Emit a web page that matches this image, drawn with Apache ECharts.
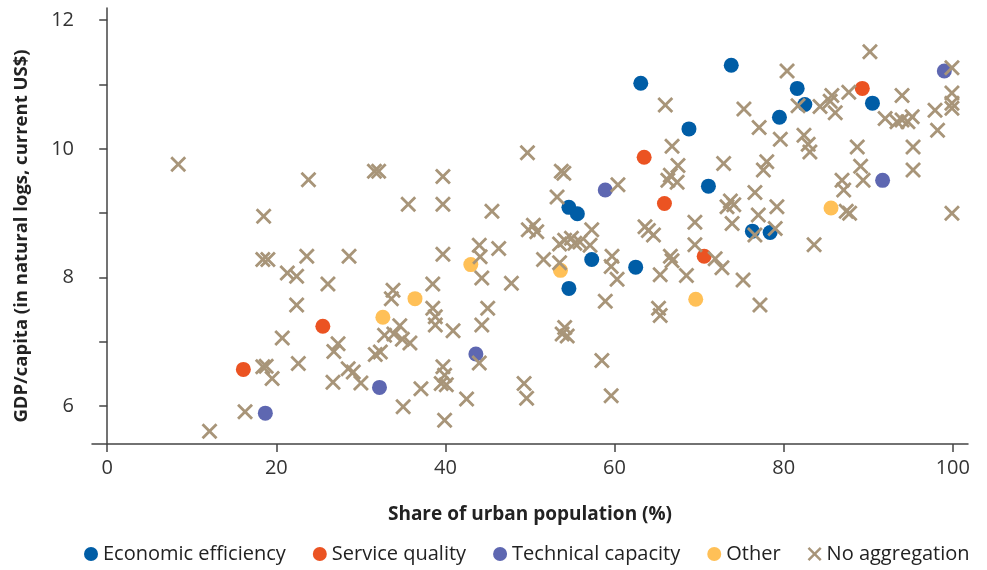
<!DOCTYPE html>
<html>
<head>
<meta charset="utf-8">
<script src="https://cdn.jsdelivr.net/npm/echarts@6/dist/echarts.min.js"></script>
<style>
html,body{margin:0;padding:0;background:#fff;}
#chart{width:987px;height:570px;}
</style>
</head>
<body>
<div id="chart"></div>
<script>
// Share of urban population (%) vs GDP/capita (natural log)
const economicEfficiency = [
  [63.1,11.02],[73.8,11.30],[68.8,10.31],[81.6,10.94],[82.5,10.69],[79.5,10.49],[90.5,10.71],
  [71.1,9.42],[54.6,9.09],[55.6,8.99],[57.3,8.28],[54.6,7.83],[62.5,8.16],[76.3,8.72],[78.4,8.70]
];
const serviceQuality = [
  [89.3,10.94],[63.5,9.87],[65.9,9.15],[70.6,8.33],[25.5,7.24],[16.1,6.57]
];
const technicalCapacity = [
  [99.0,11.21],[91.7,9.51],[58.9,9.36],[43.6,6.81],[32.2,6.29],[18.7,5.89]
];
const otherType = [
  [85.6,9.08],[43.0,8.20],[53.6,8.11],[36.4,7.67],[32.6,7.38],[69.6,7.66]
];
const noAggregation = [
  [8.4,9.76],[12.1,5.61],[16.3,5.91],[18.5,8.95],[18.4,8.28],[19.0,8.28],[18.4,6.61],[18.8,6.62],
  [19.5,6.43],[20.7,7.06],[21.3,8.07],[22.4,8.02],[22.4,7.57],[22.6,6.66],[23.6,8.33],[23.8,9.52],
  [26.1,7.90],[27.3,6.97],[26.8,6.85],[26.7,6.37],[28.5,6.58],[29.1,6.53],[28.6,8.33],[30.0,6.36],
  [31.6,9.65],[32.1,9.65],[31.7,6.80],[32.3,6.84],[32.8,7.10],[33.8,7.80],[33.6,7.67],[33.9,7.12],
  [34.6,7.25],[34.9,7.04],[35.8,6.98],[35.0,5.99],[35.6,9.14],[37.1,6.27],[38.5,7.90],[38.5,7.52],
  [38.8,7.39],[38.8,7.26],[39.7,8.36],[39.7,9.57],[39.7,9.14],[39.7,6.61],[39.9,6.48],[39.5,6.35],
  [40.1,6.33],[39.9,5.78],[40.9,7.17],[42.5,6.11],[44.0,8.50],[44.1,8.32],[44.0,6.67],[44.3,7.99],
  [44.3,7.26],[45.0,7.52],[45.5,9.03],[46.3,8.45],[47.8,7.91],[49.3,6.35],[49.6,6.12],[49.7,9.94],
  [49.8,8.74],[50.4,8.81],[50.8,8.71],[51.6,8.28],[53.2,9.25],[53.7,9.65],[54.0,9.62],[53.5,8.52],
  [53.5,8.23],[54.1,7.22],[53.8,7.12],[54.4,7.09],[54.1,8.58],[54.9,8.61],[55.3,8.53],[55.9,8.55],
  [57.1,8.50],[57.3,8.74],[58.5,6.71],[58.9,7.63],[59.6,6.16],[59.7,8.33],[59.6,8.17],[60.3,7.97],
  [60.4,9.44],[63.6,8.79],[64.0,8.73],[64.6,8.66],[65.4,8.04],[65.2,7.52],[65.4,7.41],[66.0,10.68],
  [66.8,10.04],[67.5,9.74],[66.6,9.59],[66.3,9.51],[67.4,9.48],[66.6,8.33],[66.8,8.26],[68.5,8.03],
  [69.5,8.86],[69.5,8.51],[71.9,8.29],[72.7,8.15],[72.9,9.77],[73.7,9.19],[74.1,9.13],[73.3,9.10],
  [73.9,8.84],[75.3,10.62],[75.2,7.96],[76.6,9.32],[76.6,8.66],[77.0,8.97],[77.1,10.33],[77.2,7.57],
  [78.0,9.80],[77.6,9.67],[79.0,8.76],[79.2,9.10],[79.6,10.15],[80.4,11.21],[81.7,10.67],[82.4,10.21],
  [82.9,10.07],[83.1,9.95],[83.6,8.51],[84.3,10.66],[85.5,10.74],[85.7,10.83],[86.1,10.56],[86.9,9.51],
  [87.1,9.36],[87.4,9.03],[87.8,9.00],[87.7,10.88],[88.7,10.03],[89.1,9.73],[89.4,9.51],[90.2,11.51],
  [92.0,10.47],[93.4,10.42],[94.0,10.45],[94.0,10.83],[94.7,10.42],[95.2,10.50],[95.3,10.03],[95.3,9.67],
  [97.9,10.60],[98.2,10.29],[99.9,11.26],[99.9,10.87],[99.9,10.71],[99.9,10.63],[99.9,9.00]
];
const xTicks = [0,20,40,60,80,100];
const yTicks = [6,7,8,9,10,11,12];
const yTickLabels = [6,8,10,12];
const seriesNames = ['Economic efficiency','Service quality','Technical capacity','Other','No aggregation'];
const xTitle = 'Share of urban population (%)';
const yTitle = 'GDP/capita (in natural logs, current US$)';

const crossPath = 'path://M0,12.5L12.5,0L50,37.5L87.5,0L100,12.5L62.5,50L100,87.5L87.5,100L50,62.5L12.5,100L0,87.5L37.5,50Z';
const FONT = '"Open Sans", "Noto Sans", sans-serif';
const colors = ['#005DA6','#EB5322','#5E67B1','#FFC057','#A89579'];

const chart = echarts.init(document.getElementById('chart'), null, {renderer:'canvas'});
const dotSeries = (name, data, color) => ({
  name, type:'scatter', data, symbol:'circle', symbolSize:15,
  itemStyle:{color, opacity:1}, emphasis:{disabled:true}
});
chart.setOption({
  animation:false,
  textStyle:{fontFamily:FONT},
  grid:{left:92, right:19, top:8, bottom:126},
  graphic:[{
    type:'text', z:10,
    rotation:Math.PI/2, x:22, y:236,
    style:{text:yTitle, fontFamily:FONT, fontSize:18.5, fontWeight:'bold', fill:'#222',
      align:'center', verticalAlign:'middle'}
  }],
  legend:{
    top:539, left:79, itemWidth:14, itemHeight:14, itemGap:27,
    textStyle:{fontFamily:FONT, fontSize:20, color:'#222'},
    data:[
      {name:seriesNames[0], icon:'circle'},
      {name:seriesNames[1], icon:'circle'},
      {name:seriesNames[2], icon:'circle'},
      {name:seriesNames[3], icon:'circle'},
      {name:seriesNames[4], icon:crossPath}
    ]
  },
  xAxis:{
    type:'value', min:-1.8, max:101.8,
    name:xTitle, nameLocation:'middle', nameGap:61,
    nameTextStyle:{fontFamily:FONT, fontSize:19, fontWeight:'bold', color:'#222'},
    axisLine:{show:true, lineStyle:{color:'#444', width:1.5}},
    axisTick:{show:true, length:8, customValues:xTicks, lineStyle:{color:'#444', width:1.5}},
    axisLabel:{customValues:xTicks, margin:14, fontSize:20, color:'#333', fontFamily:FONT},
    splitLine:{show:false}
  },
  yAxis:{
    type:'value', min:5.41, max:12.19,
    axisLine:{show:true, lineStyle:{color:'#444', width:1.5}},
    axisTick:{show:true, length:8, customValues:yTicks, lineStyle:{color:'#444', width:1.5}},
    axisLabel:{customValues:yTickLabels, margin:18, fontSize:20, color:'#333', fontFamily:FONT},
    splitLine:{show:false}
  },
  series:[
    dotSeries(seriesNames[0], economicEfficiency, colors[0]),
    dotSeries(seriesNames[1], serviceQuality, colors[1]),
    dotSeries(seriesNames[2], technicalCapacity, colors[2]),
    dotSeries(seriesNames[3], otherType, colors[3]),
    {
      name:seriesNames[4], type:'scatter', data:noAggregation, symbol:crossPath, symbolSize:16,
      itemStyle:{color:colors[4], opacity:1}, emphasis:{disabled:true}
    }
  ]
});
</script>
</body>
</html>
